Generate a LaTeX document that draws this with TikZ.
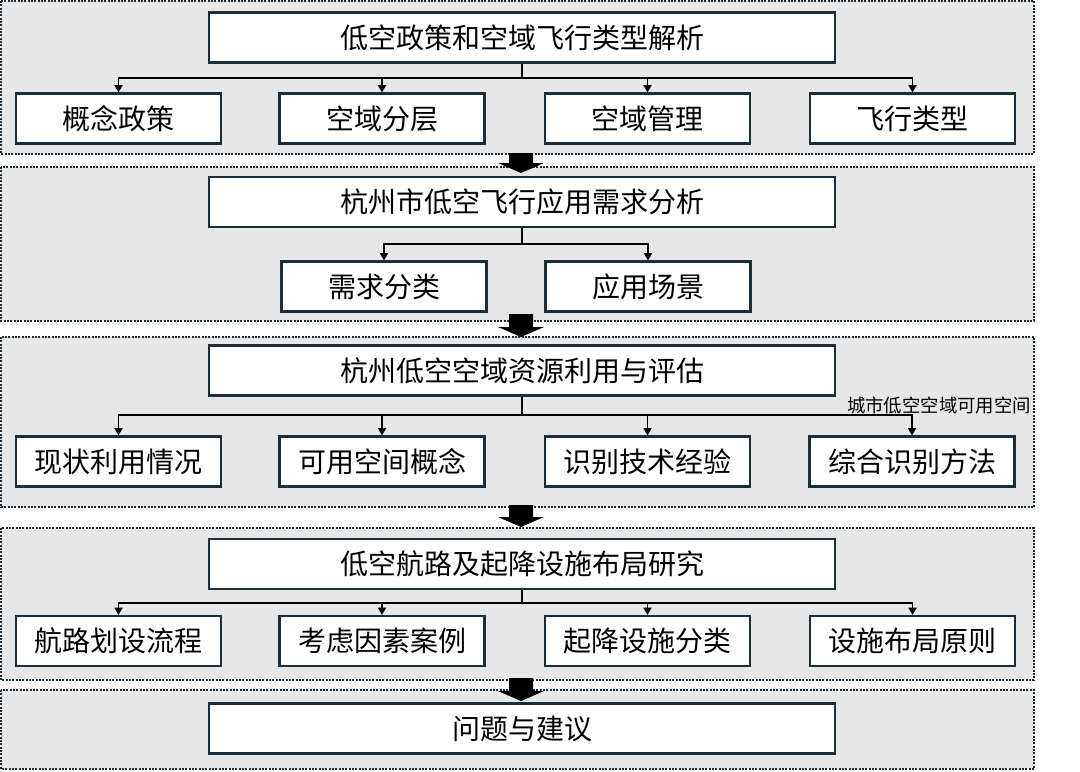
\documentclass[tikz,border=0pt]{standalone}
\usepackage{fontspec}
\setmainfont{Noto Sans CJK SC}
\usetikzlibrary{arrows.meta}
\definecolor{edge}{HTML}{1B2E3C}
\definecolor{panelgray}{HTML}{E7E7E7}
\tikzset{
  panel/.style={draw=edge, fill=panelgray, line width=1.7pt, dash pattern=on 1.4pt off 1.1pt},
  titlebox/.style={draw=edge, fill=white, line width=1.6pt, minimum width=626*0.75pt, minimum height=50*0.75pt, inner sep=0pt, font=\fontsize{21}{24}\selectfont},
  childbox/.style={draw=edge, fill=white, line width=1.6pt, minimum width=205*0.75pt, minimum height=50*0.75pt, inner sep=0pt, font=\fontsize{21}{24}\selectfont},
  conn/.style={draw=black, line width=1.3pt},
  connarrow/.style={conn, -{Triangle[length=5.5pt,width=6pt]}},
  blockarrow/.style={fill=black, draw=none},
  smalllabel/.style={inner sep=0pt, font=\fontsize{13.8}{15}\selectfont}
}
\begin{document}
\begin{tikzpicture}[x=0.75pt,y=-0.75pt]
\useasboundingbox (0,0) rectangle (1080,771);
% panels
\draw[panel] (1,1) rectangle (1034,154);
\draw[panel] (1,167) rectangle (1034,321);
\draw[panel] (1,337) rectangle (1034,507);
\draw[panel] (1,528) rectangle (1034,680);
\draw[panel] (1,690) rectangle (1034,769);
% block arrows
\foreach \t/\b in {153/173, 314/337, 505/527, 678/701}{
  \fill[blockarrow] (509,\t) -- (533,\t) -- (533,\b-10) -- (544,\b-10) -- (521,\b) -- (498,\b-10) -- (509,\b-10) -- cycle;
}
% panel 1
\node[titlebox] (t1) at (522,37.5) {低空政策和空域飞行类型解析};
\node[childbox] (c11) at (118.5,118.5) {概念政策};
\node[childbox] (c12) at (382,118.5) {空域分层};
\node[childbox] (c13) at (647.5,118.5) {空域管理};
\node[childbox] (c14) at (912.5,118.5) {飞行类型};
\coordinate (j1) at (522,78);
\draw[conn] (t1.south) -- (j1);
\foreach \c in {c11,c12,c13,c14}{\draw[connarrow] (j1) -| (\c.north);}
% panel 2
\node[titlebox] (t2) at (522,202) {杭州市低空飞行应用需求分析};
\node[childbox] (c21) at (384,286.5) {需求分类};
\node[childbox] (c22) at (648,286.5) {应用场景};
\coordinate (j2) at (522,244);
\draw[conn] (t2.south) -- (j2);
\foreach \c in {c21,c22}{\draw[connarrow] (j2) -| (\c.north);}
% panel 3
\node[titlebox] (t3) at (522,370.5) {杭州低空空域资源利用与评估};
\node[childbox] (c31) at (118.5,461.5) {现状利用情况};
\node[childbox] (c32) at (382,461.5) {可用空间概念};
\node[childbox] (c33) at (647.5,461.5) {识别技术经验};
\node[childbox] (c34) at (912,461.5) {综合识别方法};
\coordinate (j3) at (522,415);
\draw[conn] (t3.south) -- (j3);
\foreach \c in {c31,c32,c33,c34}{\draw[connarrow] (j3) -| (\c.north);}
\node[smalllabel] (lab) at (939,405) {城市低空空域可用空间};
% panel 4
\node[titlebox] (t4) at (522,564) {低空航路及起降设施布局研究};
\node[childbox] (c41) at (118.5,641) {航路划设流程};
\node[childbox] (c42) at (382,641) {考虑因素案例};
\node[childbox] (c43) at (647.5,641) {起降设施分类};
\node[childbox] (c44) at (912.5,641) {设施布局原则};
\coordinate (j4) at (522,603);
\draw[conn] (t4.south) -- (j4);
\foreach \c in {c41,c42,c43,c44}{\draw[connarrow] (j4) -| (\c.north);}
% panel 5
\node[titlebox] (t5) at (522,728.5) {问题与建议};
\end{tikzpicture}
\end{document}
